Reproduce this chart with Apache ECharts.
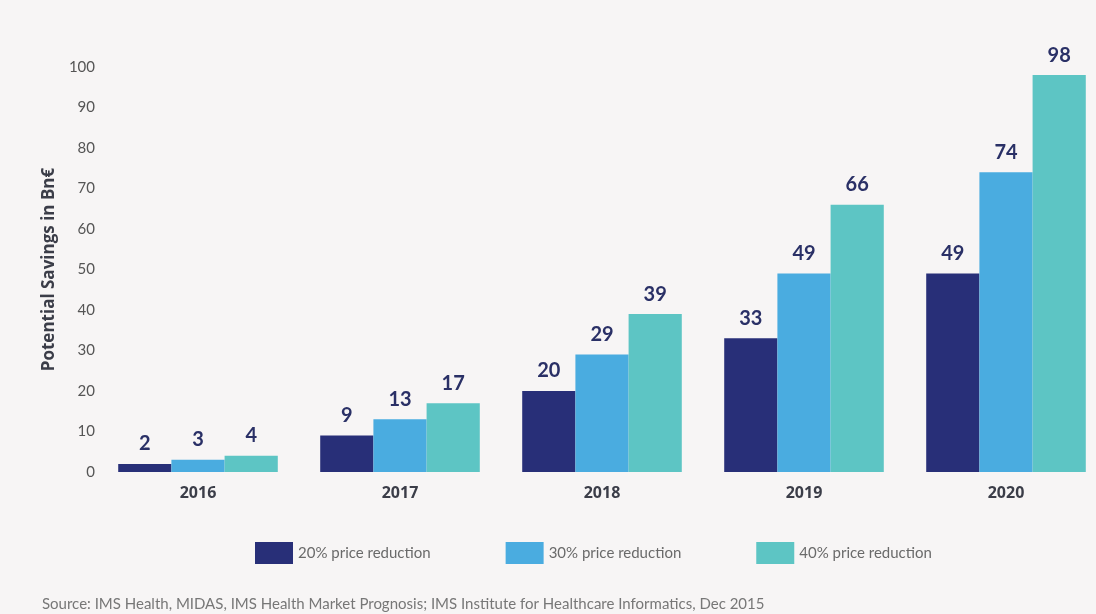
<!DOCTYPE html>
<html>
<head>
<meta charset="utf-8">
<script src="https://cdn.jsdelivr.net/npm/echarts@6/dist/echarts.min.js"></script>
<style>
  html, body { margin: 0; padding: 0; background: #f7f5f5; }
  #chart { width: 1096px; height: 614px; }
</style>
</head>
<body>
<div id="chart"></div>
<script>
// Potential savings (Bn€) by year for three price-reduction scenarios
const years = ['2016', '2017', '2018', '2019', '2020'];
const reduction20 = [2, 9, 20, 33, 49];
const reduction30 = [3, 13, 29, 49, 74];
const reduction40 = [4, 17, 39, 66, 98];
const seriesNames = ['20% price reduction', '30% price reduction', '40% price reduction'];
const seriesColors = ['#282f78', '#4aace0', '#5dc5c4'];
const yTicks = { min: 0, max: 100, interval: 10 };
const sourceNote = 'Source: IMS Health, MIDAS, IMS Health Market Prognosis; IMS Institute for Healthcare Informatics, Dec 2015';

const font = 'Lato, "Open Sans", sans-serif';

function barSeries(name, data, color) {
  return {
    name: name,
    type: 'bar',
    data: data,
    barGap: '0%',
    barCategoryGap: '21%',
    itemStyle: { color: color },
    label: {
      show: true,
      position: 'top',
      distance: 10,
      color: '#2a3066',
      fontFamily: font,
      fontWeight: 'bold',
      fontSize: 20
    }
  };
}

const chart = echarts.init(document.getElementById('chart'));
chart.setOption({
  backgroundColor: '#f7f5f5',
  animation: false,
  grid: { left: 97, top: 67, width: 1010, height: 405, containLabel: false, outerBoundsMode: 'none' },
  legend: {
    data: seriesNames,
    left: 250,
    top: 537,
    itemWidth: 38,
    itemHeight: 22,
    itemGap: 75,
    icon: 'rect',
    textStyle: { color: '#6a6a6a', fontFamily: font, fontSize: 15 }
  },
  xAxis: {
    type: 'category',
    data: years,
    axisLine: { show: false },
    axisTick: { show: false },
    axisLabel: {
      color: '#3b3d48',
      fontFamily: '"Open Sans", sans-serif',
      fontWeight: 'bold',
      fontSize: 16,
      margin: 13
    }
  },
  yAxis: {
    type: 'value',
    min: yTicks.min,
    max: yTicks.max,
    interval: yTicks.interval,
    name: 'Potential Savings in Bn€',
    nameLocation: 'middle',
    nameGap: 37,
    nameTextStyle: { color: '#3b3d48', fontFamily: '"Open Sans", sans-serif', fontWeight: 'bold', fontSize: 17 },
    axisLine: { show: false },
    axisTick: { show: false },
    splitLine: { show: false },
    axisLabel: { color: '#555', fontFamily: font, fontSize: 15, margin: 2 }
  },
  series: [
    barSeries(seriesNames[0], reduction20, seriesColors[0]),
    barSeries(seriesNames[1], reduction30, seriesColors[1]),
    barSeries(seriesNames[2], reduction40, seriesColors[2])
  ],
  graphic: [{
    type: 'text',
    left: 42,
    top: 597,
    style: { text: sourceNote, fill: '#777', font: '15px ' + font }
  }]
});
</script>
</body>
</html>
